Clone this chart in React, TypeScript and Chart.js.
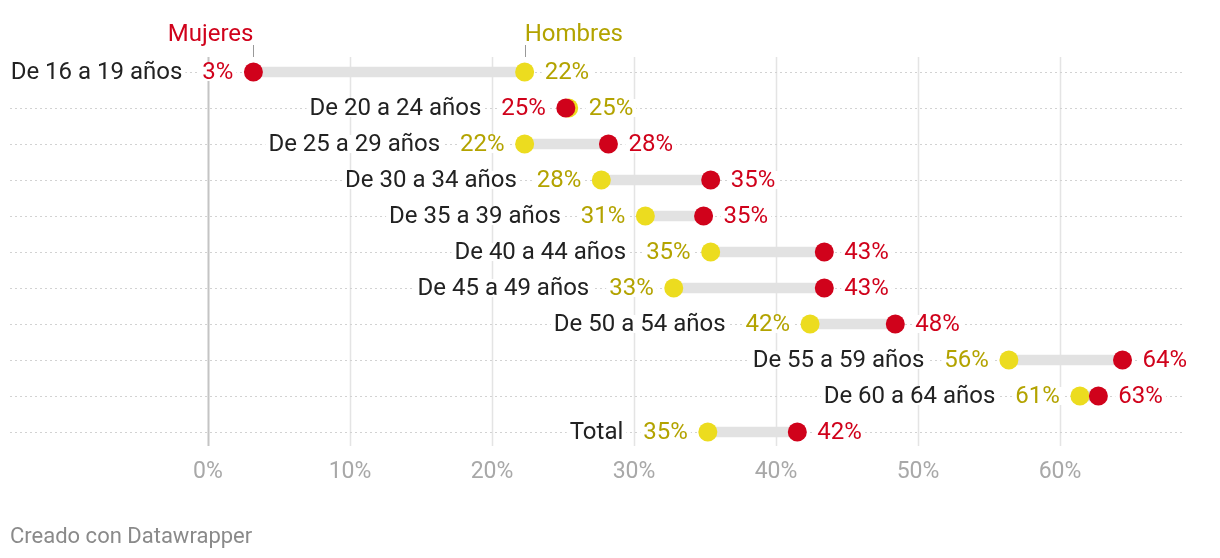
import { useEffect, useRef } from "react";
import { Chart, registerables } from "chart.js";

Chart.register(...registerables);

const categories = [
  "De 16 a 19 años",
  "De 20 a 24 años",
  "De 25 a 29 años",
  "De 30 a 34 años",
  "De 35 a 39 años",
  "De 40 a 44 años",
  "De 45 a 49 años",
  "De 50 a 54 años",
  "De 55 a 59 años",
  "De 60 a 64 años",
  "Total",
];
const mujeres = [3.2, 25.2, 28.2, 35.4, 34.9, 43.4, 43.4, 48.4, 64.4, 62.7, 41.5];
const hombres = [22.3, 25.4, 22.3, 27.7, 30.8, 35.4, 32.8, 42.4, 56.4, 61.4, 35.2];
const xTicks = [0, 10, 20, 30, 40, 50, 60];
const seriesNames = ["Mujeres", "Hombres"];
const credit = "Creado con Datawrapper";

const RED = "#d0021b";
const YELLOW = "#ecdc1f";
const YELLOW_TEXT = "#b3a300";
const FONT = "Roboto, 'Noto Sans', sans-serif";

const labelPlugin = {
  id: "dumbbellLabels",
  beforeDatasetsDraw(chart: any) {
    const { ctx, chartArea: a } = chart;
    const xs = chart.scales.x;
    const ys = chart.scales.y;
    ctx.save();
    xTicks.forEach((t) => {
      const x = Math.round(xs.getPixelForValue(t)) + 0.5;
      ctx.beginPath();
      ctx.strokeStyle = t === 0 ? "#c4c4c4" : "#e4e4e4";
      ctx.lineWidth = t === 0 ? 2 : 1.5;
      ctx.moveTo(x, a.top + 3);
      ctx.lineTo(x, a.bottom - 4);
      ctx.stroke();
    });
    ctx.setLineDash([2, 3]);
    ctx.strokeStyle = "#d2d2d2";
    ctx.lineWidth = 1;
    categories.forEach((_, i) => {
      const y = Math.round(ys.getPixelForValue(i)) + 0.5;
      ctx.beginPath();
      ctx.moveTo(a.left, y);
      ctx.lineTo(a.right, y);
      ctx.stroke();
    });
    ctx.restore();
  },
  afterDatasetsDraw(chart: any) {
    const { ctx } = chart;
    const xs = chart.scales.x;
    const ys = chart.scales.y;
    ctx.save();
    ctx.font = `24px ${FONT}`;
    ctx.textBaseline = "middle";

    const boxText = (text: string, x: number, y: number, align: "left" | "right", color: string) => {
      const w = ctx.measureText(text).width;
      const x0 = align === "right" ? x - w : x;
      ctx.fillStyle = "#ffffff";
      ctx.fillRect(x0 - 3, y - 9, w + 6, 18);
      ctx.fillStyle = color;
      ctx.textAlign = "left";
      ctx.fillText(text, x0, y + 1);
      return w;
    };

    categories.forEach((cat, i) => {
      const y = ys.getPixelForValue(i);
      const m = mujeres[i];
      const h = hombres[i];
      const loIsM = m <= h;
      const lo = loIsM ? m : h;
      const hi = loIsM ? h : m;
      const loColor = loIsM ? RED : YELLOW_TEXT;
      const hiColor = loIsM ? YELLOW_TEXT : RED;
      const xLo = xs.getPixelForValue(lo);
      const xHi = xs.getPixelForValue(hi);
      const wLo = boxText(Math.round(lo) + "%", xLo - 20, y, "right", loColor);
      boxText(cat, xLo - 20 - wLo - 20, y, "right", "#222222");
      boxText(Math.round(hi) + "%", xHi + 20, y, "left", hiColor);
    });
    ctx.restore();
  },
  afterDraw(chart: any) {
    const { ctx } = chart;
    const xs = chart.scales.x;
    ctx.save();
    const xm = xs.getPixelForValue(mujeres[0]);
    const xh = xs.getPixelForValue(hombres[0]);
    ctx.font = `24px ${FONT}`;
    ctx.textBaseline = "middle";
    ctx.fillStyle = RED;
    ctx.textAlign = mujeres[0] <= hombres[0] ? "right" : "left";
    ctx.fillText(seriesNames[0], xm, 27);
    ctx.fillStyle = YELLOW_TEXT;
    ctx.textAlign = mujeres[0] <= hombres[0] ? "left" : "right";
    ctx.fillText(seriesNames[1], xh, 27);
    ctx.strokeStyle = "#999999";
    ctx.lineWidth = 1;
    [xm, xh].forEach((x) => {
      const px = Math.round(x) + 0.5;
      ctx.beginPath();
      ctx.moveTo(px, 37);
      ctx.lineTo(px, 49);
      ctx.stroke();
    });
    ctx.font = `23px ${FONT}`;
    ctx.fillStyle = "#a8a8a8";
    ctx.textAlign = "center";
    xTicks.forEach((t) => {
      ctx.fillText(t + "%", xs.getPixelForValue(t), 464);
    });
    ctx.font = `22px ${FONT}`;
    ctx.fillStyle = "#8a8a8a";
    ctx.textAlign = "left";
    ctx.fillText(credit, 2, 529);
    ctx.restore();
  },
};

export default function App() {
  const ref = useRef<HTMLCanvasElement | null>(null);
  useEffect(() => {
    if (!ref.current) return;
    const chart = new Chart(ref.current, {
      type: "bar",
      data: {
        labels: categories,
        datasets: [
          {
            type: "bar",
            data: categories.map((_, i) => [
              Math.min(mujeres[i], hombres[i]),
              Math.max(mujeres[i], hombres[i]),
            ]) as any,
            backgroundColor: "#e2e2e2",
            barThickness: 10,
            borderSkipped: false,
            order: 3,
          },
          {
            type: "line",
            label: seriesNames[1],
            data: hombres,
            showLine: false,
            pointRadius: 9.5,
            pointBackgroundColor: YELLOW,
            pointBorderWidth: 0,
            order: 2,
          },
          {
            type: "line",
            label: seriesNames[0],
            data: mujeres,
            showLine: false,
            pointRadius: 9.5,
            pointBackgroundColor: RED,
            pointBorderWidth: 0,
            order: 1,
          },
        ] as any,
      },
      options: {
        indexAxis: "y",
        animation: false,
        responsive: true,
        maintainAspectRatio: false,
        layout: { autoPadding: false, padding: { top: 46, bottom: 100, left: 2, right: 27 } },
        plugins: { legend: { display: false }, tooltip: { enabled: false } },
        scales: {
          x: { type: "linear", min: -13.94, max: 68.8, display: false },
          y: { type: "category", offset: true, display: false },
        },
      },
      plugins: [labelPlugin],
    });
    return () => chart.destroy();
  }, []);
  return (
    <div style={{ width: 1204, height: 542 }}>
      <canvas ref={ref} />
    </div>
  );
}
